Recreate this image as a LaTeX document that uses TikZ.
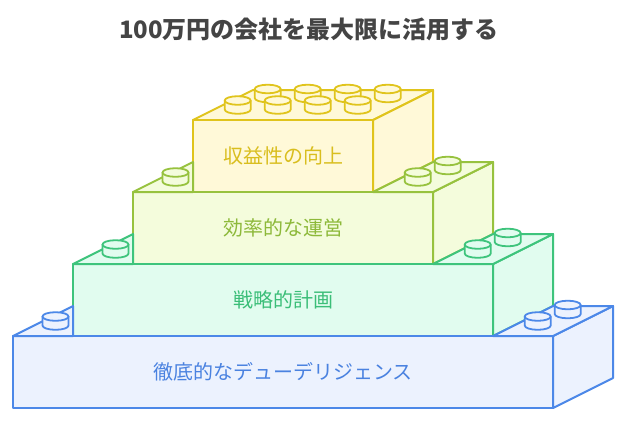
\documentclass[tikz,border=0pt]{standalone}
\usepackage{fontspec}
\setmainfont{Noto Sans CJK JP}
\definecolor{yS}{HTML}{E0C41C}
\definecolor{yF}{HTML}{FFF9D8}
\definecolor{yT}{HTML}{D9BE1E}
\definecolor{gyS}{HTML}{97C23E}
\definecolor{gyF}{HTML}{F4FCDC}
\definecolor{gyT}{HTML}{8DB93A}
\definecolor{gS}{HTML}{3EC47C}
\definecolor{gF}{HTML}{E1FCEF}
\definecolor{gT}{HTML}{3BBE78}
\definecolor{bS}{HTML}{4C88E8}
\definecolor{bF}{HTML}{ECF2FE}
\definecolor{bT}{HTML}{4A82E0}
\definecolor{titleC}{HTML}{444444}
\tikzset{
  blk/.style={line width=2pt, line join=round},
  studline/.style={line width=1.8pt, line join=round},
  lbl/.style={font=\fontsize{20}{24}\selectfont, inner sep=0pt},
}
\newcommand\Stud[3]{%
  \filldraw[studline, draw=#3S, fill=#3F] (#1-13,#2) -- (#1-13,#2+9)
    arc[start angle=180, end angle=0, x radius=13, y radius=4.3] -- (#1+13,#2) -- cycle;
  \filldraw[studline, draw=#3S, fill=#3F] (#1,#2) ellipse[x radius=13, y radius=4.3];
}
\newcommand\BlockFS[4]{%
  \filldraw[blk, draw=#4S, fill=#4F] (#2,#3) -- (#2+60,#3-30) -- (#2+60,#3+42) -- (#2,#3+72) -- cycle;
  \filldraw[blk, draw=#4S, fill=#4F] (#1,#3) rectangle (#2,#3+72);
}
\newcommand\TopPieces[4]{%
  \filldraw[blk, draw=#4S, fill=#4F] (#1,#3) -- (#1+60,#3-30) -- (#1+60,#3) -- cycle;
  \filldraw[blk, draw=#4S, fill=#4F] (#2-60,#3) -- (#2,#3-30) -- (#2+60,#3-30) -- (#2,#3) -- cycle;
  \Stud{#2+14.7}{#3-31}{#4}
  \Stud{#2-15.3}{#3-19.5}{#4}
  \Stud{#1+42.5}{#3-19.5}{#4}
}
\begin{document}
\begin{tikzpicture}[x=1pt, y=-1pt]
\useasboundingbox (0,0) rectangle (626,421);
\fill[white] (0,0) rectangle (626,421);
% title
\node[font=\bfseries\fontsize{24}{28}\selectfont, text=titleC, inner sep=0pt] (title) at (309,29) {100万円の会社を最大限に活用する};
% top block (yellow)
\filldraw[blk, draw=yS, fill=yF] (193,120) -- (253,90) -- (433,90) -- (373,120) -- cycle;
\foreach \k in {0,1,2,3} {\Stud{387.7-40*\k}{89}{y}}
\foreach \k in {0,1,2,3} {\Stud{357.7-40*\k}{100.5}{y}}
\BlockFS{193}{373}{120}{y}
% second block (yellow-green)
\BlockFS{133}{433}{192}{gy}
\TopPieces{133}{433}{192}{gy}
% third block (green)
\BlockFS{73}{493}{264}{g}
\TopPieces{73}{493}{264}{g}
% bottom block (blue)
\BlockFS{13}{553}{336}{b}
\TopPieces{13}{553}{336}{b}
% labels
\node[lbl, text=yT] (l1) at (283,156) {収益性の向上};
\node[lbl, text=gyT] (l2) at (283,228) {効率的な運営};
\node[lbl, text=gT] (l3) at (283,300) {戦略的計画};
\node[lbl, text=bT] (l4) at (283,372) {徹底的なデューデリジェンス};
\end{tikzpicture}
\end{document}
